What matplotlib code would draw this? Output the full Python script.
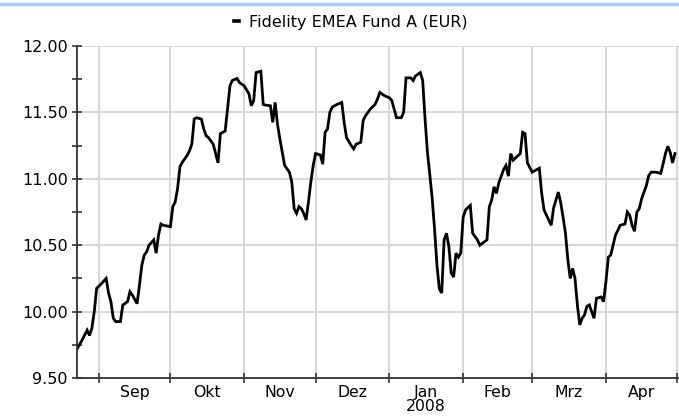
import matplotlib
matplotlib.use("Agg")
import matplotlib.pyplot as plt
import matplotlib.dates as mdates
import pandas as pd
from matplotlib.lines import Line2D
from matplotlib.ticker import MultipleLocator, FixedLocator, NullFormatter, FixedFormatter

# fund price readings (EUR), Aug 2007 - Apr 2008
dates = [
    "2007-08-23", "2007-08-25", "2007-08-27", "2007-08-28", "2007-08-29", "2007-08-30", "2007-08-31",
    "2007-09-02", "2007-09-04", "2007-09-05", "2007-09-06", "2007-09-07", "2007-09-08", "2007-09-10",
    "2007-09-11", "2007-09-13", "2007-09-14", "2007-09-15", "2007-09-17", "2007-09-18", "2007-09-19",
    "2007-09-20", "2007-09-21", "2007-09-22", "2007-09-24", "2007-09-25", "2007-09-26", "2007-09-27",
    "2007-09-28", "2007-10-01", "2007-10-02", "2007-10-03", "2007-10-04", "2007-10-05", "2007-10-06",
    "2007-10-08", "2007-10-09", "2007-10-10", "2007-10-11", "2007-10-12", "2007-10-14", "2007-10-15",
    "2007-10-16", "2007-10-17", "2007-10-19", "2007-10-20", "2007-10-21", "2007-10-22", "2007-10-24",
    "2007-10-25", "2007-10-26", "2007-10-27", "2007-10-29", "2007-10-30", "2007-11-01", "2007-11-03",
    "2007-11-04", "2007-11-05", "2007-11-06", "2007-11-08", "2007-11-09", "2007-11-10", "2007-11-12",
    "2007-11-13", "2007-11-14", "2007-11-15", "2007-11-16", "2007-11-17", "2007-11-18", "2007-11-20",
    "2007-11-21", "2007-11-22", "2007-11-23", "2007-11-24", "2007-11-25", "2007-11-26", "2007-11-27",
    "2007-11-28", "2007-11-29", "2007-11-30", "2007-12-01", "2007-12-03", "2007-12-04", "2007-12-05",
    "2007-12-06", "2007-12-07", "2007-12-08", "2007-12-10", "2007-12-12", "2007-12-13", "2007-12-14",
    "2007-12-16", "2007-12-17", "2007-12-18", "2007-12-20", "2007-12-21", "2007-12-22", "2007-12-24",
    "2007-12-26", "2007-12-27", "2007-12-28", "2007-12-30", "2008-01-01", "2008-01-02", "2008-01-04",
    "2008-01-06", "2008-01-07", "2008-01-08", "2008-01-10", "2008-01-11", "2008-01-12", "2008-01-14",
    "2008-01-15", "2008-01-16", "2008-01-17", "2008-01-18", "2008-01-19", "2008-01-20", "2008-01-21",
    "2008-01-22", "2008-01-23", "2008-01-24", "2008-01-25", "2008-01-26", "2008-01-27", "2008-01-28",
    "2008-01-29", "2008-01-30", "2008-01-31", "2008-02-01", "2008-02-02", "2008-02-04", "2008-02-05",
    "2008-02-07", "2008-02-08", "2008-02-11", "2008-02-12", "2008-02-13", "2008-02-14", "2008-02-15",
    "2008-02-16", "2008-02-18", "2008-02-19", "2008-02-20", "2008-02-21", "2008-02-22", "2008-02-25",
    "2008-02-26", "2008-02-27", "2008-02-28", "2008-03-01", "2008-03-04", "2008-03-05", "2008-03-06",
    "2008-03-09", "2008-03-10", "2008-03-12", "2008-03-13", "2008-03-14", "2008-03-15", "2008-03-16",
    "2008-03-17", "2008-03-18", "2008-03-19", "2008-03-20", "2008-03-21", "2008-03-22", "2008-03-23",
    "2008-03-24", "2008-03-25", "2008-03-26", "2008-03-27", "2008-03-28", "2008-03-30", "2008-03-31",
    "2008-04-01", "2008-04-02", "2008-04-03", "2008-04-04", "2008-04-05", "2008-04-07", "2008-04-09",
    "2008-04-10", "2008-04-11", "2008-04-12", "2008-04-13", "2008-04-14", "2008-04-15", "2008-04-16",
    "2008-04-18", "2008-04-19", "2008-04-20", "2008-04-22", "2008-04-24", "2008-04-25", "2008-04-26",
    "2008-04-27", "2008-04-28", "2008-04-29", "2008-04-30",
]
prices = [
    9.725, 9.79, 9.86, 9.82, 9.875, 10.00, 10.175,
    10.21, 10.25, 10.14, 10.075, 9.95, 9.925, 9.925,
    10.05, 10.075, 10.15, 10.125, 10.06, 10.20, 10.35,
    10.425, 10.45, 10.50, 10.54, 10.44, 10.575, 10.66,
    10.65, 10.64, 10.79, 10.825, 10.925, 11.09, 11.125,
    11.175, 11.21, 11.26, 11.45, 11.46, 11.45, 11.375,
    11.325, 11.31, 11.26, 11.19, 11.12, 11.34, 11.36,
    11.525, 11.70, 11.74, 11.755, 11.725, 11.70, 11.64,
    11.55, 11.59, 11.80, 11.81, 11.56, 11.555, 11.55,
    11.425, 11.575, 11.41, 11.30, 11.20, 11.10, 11.05,
    10.975, 10.775, 10.74, 10.79, 10.775, 10.74, 10.69,
    10.825, 10.975, 11.10, 11.19, 11.18, 11.11, 11.35,
    11.375, 11.50, 11.54, 11.56, 11.575, 11.425, 11.31,
    11.25, 11.225, 11.26, 11.275, 11.44, 11.475, 11.525,
    11.56, 11.60, 11.65, 11.625, 11.61, 11.59, 11.46,
    11.46, 11.50, 11.76, 11.76, 11.74, 11.775, 11.80,
    11.74, 11.45, 11.20, 11.03, 10.85, 10.62, 10.35,
    10.17, 10.14, 10.54, 10.59, 10.49, 10.29, 10.26,
    10.44, 10.41, 10.44, 10.71, 10.765, 10.80, 10.59,
    10.54, 10.50, 10.54, 10.79, 10.84, 10.94, 10.89,
    10.97, 11.07, 11.10, 11.02, 11.19, 11.14, 11.19,
    11.35, 11.34, 11.12, 11.05, 11.08, 10.89, 10.765,
    10.65, 10.78, 10.90, 10.82, 10.71, 10.59, 10.39,
    10.25, 10.325, 10.25, 10.05, 9.90, 9.95, 9.975,
    10.04, 10.05, 10.00, 9.95, 10.10, 10.11, 10.075,
    10.225, 10.41, 10.425, 10.50, 10.575, 10.65, 10.66,
    10.75, 10.725, 10.65, 10.605, 10.75, 10.775, 10.85,
    10.95, 11.025, 11.05, 11.05, 11.04, 11.11, 11.19,
    11.245, 11.20, 11.12, 11.19,
]
series_label = "Fidelity EMEA Fund A (EUR)"
month_starts = ["2007-09-01", "2007-10-01", "2007-11-01", "2007-12-01", "2008-01-01",
                "2008-02-01", "2008-03-01", "2008-04-01", "2008-05-01"]
month_labels = ["Sep", "Okt", "Nov", "Dez", "Jan\n2008", "Feb", "Mrz", "Apr"]

x = pd.to_datetime(dates)
starts = mdates.date2num(pd.to_datetime(month_starts))
mids = (starts[:-1] + starts[1:]) / 2

fig = plt.figure(figsize=(6.79, 4.16), dpi=100)
ax = fig.add_axes([77 / 679, 1 - 378 / 416, 602 / 679, 332 / 416])

ax.plot(x, prices, color="black", lw=2.0, label=series_label, solid_joinstyle="miter")

x0 = mdates.date2num(pd.Timestamp("2007-08-22 18:00"))
ax.set_xlim(x0, starts[-1] + 0.7)
ax.set_ylim(9.5, 12.0)

ax.yaxis.set_major_locator(MultipleLocator(0.5))
ax.yaxis.set_minor_locator(MultipleLocator(0.25))
ax.yaxis.set_major_formatter(plt.FuncFormatter(lambda v, p: "%.2f" % v))
ax.xaxis.set_major_locator(FixedLocator(starts))
ax.xaxis.set_major_formatter(NullFormatter())
ax.xaxis.set_minor_locator(FixedLocator(mids))
ax.xaxis.set_minor_formatter(FixedFormatter(month_labels))

ax.grid(True, which="major", color="#d4d4d4", lw=1.3)
ax.set_axisbelow(True)
for s in ["top", "right"]:
    ax.spines[s].set_visible(False)
for s in ["left", "bottom"]:
    ax.spines[s].set_color("#333333")
    ax.spines[s].set_linewidth(1.3)

ax.tick_params(axis="y", which="both", direction="inout", length=7, width=1.2,
               color="#333333", labelsize=11.5, pad=3)
ax.tick_params(axis="x", which="major", direction="inout", length=7, width=1.2, color="#333333")
ax.tick_params(axis="x", which="minor", length=0, labelsize=11.3, pad=5)
for lab in ax.get_xticklabels(minor=True):
    lab.set_verticalalignment("top")
    lab.set_linespacing(0.9)

leg = ax.legend(loc="center", bbox_to_anchor=(0.455, 1.072), frameon=False,
                handlelength=0.3, handletextpad=0.6, fontsize=11.5)
for h in leg.get_lines():
    h.set_linewidth(2.6)

# light blue rule across the top
fig.add_artist(Line2D([0, 1], [1 - 3.5 / 416, 1 - 3.5 / 416], color="#a8d0f5", lw=2.5))

fig.savefig("out.png", dpi=100)
